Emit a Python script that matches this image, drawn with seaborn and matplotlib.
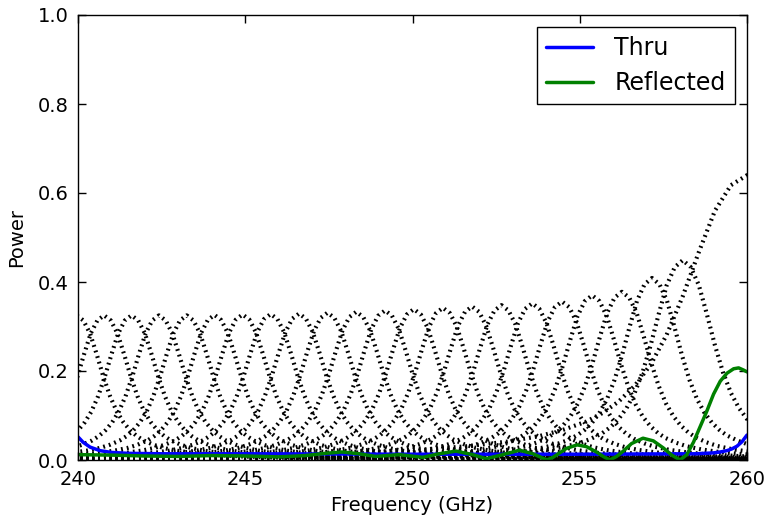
import numpy as np
import pandas as pd
import matplotlib
matplotlib.use("Agg")
import matplotlib.pyplot as plt
import seaborn as sns
from matplotlib.legend_handler import HandlerLine2D

# ---- data ----
# filter-bank channels: centre (GHz), peak power, width scale of the response shape
chan_center = [239.96, 240.78, 241.60, 242.42, 243.25, 244.08, 244.92, 245.76, 246.61,
               247.46, 248.32, 249.18, 250.04, 250.91, 251.78, 252.66, 253.58, 254.47,
               255.37, 256.26, 257.16, 258.08, 260.00]
chan_peak = [0.325, 0.325, 0.325, 0.325, 0.325, 0.326, 0.327, 0.328, 0.329,
             0.331, 0.333, 0.336, 0.339, 0.342, 0.345, 0.348, 0.352, 0.356,
             0.370, 0.378, 0.409, 0.449, 0.640]
chan_width = [1.00, 1.00, 1.00, 1.00, 1.00, 1.00, 1.01, 1.01, 1.02,
              1.02, 1.03, 1.03, 1.04, 1.04, 1.05, 1.05, 1.06, 1.07,
              1.09, 1.10, 1.12, 1.20, 2.40]
# one-sided channel response shape: offset from centre (GHz) and relative power
shape_offset = [0.0, 0.2, 0.4, 0.6, 0.8, 1.0, 1.2, 1.4, 1.6, 1.8, 2.0, 2.3, 2.6, 3.0,
                3.5, 4.0, 5.0, 6.0, 8.0, 11.0, 15.0, 21.0]
shape_value = [1.0, 0.965, 0.875, 0.73, 0.575, 0.44, 0.335, 0.26, 0.205, 0.165, 0.135,
               0.105, 0.083, 0.064, 0.048, 0.037, 0.024, 0.017, 0.0095, 0.005, 0.0027,
               0.0014]

thru_freq = [240.0, 240.15, 240.36, 240.66, 241.0, 241.5, 242.5, 245.0, 250.0, 255.0,
             258.5, 259.0, 259.2, 259.4, 259.55, 259.7, 259.85, 260.0]
thru_power = [0.052, 0.040, 0.029, 0.021, 0.017, 0.015, 0.014, 0.014, 0.013, 0.013,
              0.014, 0.016, 0.018, 0.021, 0.025, 0.031, 0.041, 0.056]

refl_freq = [240.0, 241.0, 242.0, 243.0, 244.0, 245.0, 246.0, 246.8, 247.4, 247.9,
             248.4, 248.9, 249.6, 250.3, 250.8, 251.3, 251.8, 252.2, 252.7, 253.2,
             253.6, 254.02, 254.2, 254.4, 254.6, 254.92, 255.2, 255.5, 255.7, 255.9,
             256.1, 256.3, 256.55, 256.89, 257.2, 257.5, 257.75, 258.0, 258.2, 258.4,
             258.6, 258.8, 259.0, 259.2, 259.4, 259.6, 259.75, 259.9, 260.0]
refl_power = [0.012, 0.011, 0.009, 0.008, 0.010, 0.009, 0.007, 0.010, 0.015, 0.018,
              0.014, 0.008, 0.012, 0.006, 0.014, 0.020, 0.012, 0.003, 0.012, 0.022,
              0.014, 0.000, 0.006, 0.016, 0.026, 0.034, 0.030, 0.018, 0.008, 0.000,
              0.008, 0.020, 0.037, 0.049, 0.043, 0.027, 0.011, 0.000, 0.012, 0.040,
              0.075, 0.110, 0.148, 0.177, 0.195, 0.205, 0.207, 0.202, 0.198]

xtick_vals = [240, 245, 250, 255, 260]
ytick_vals = [0.0, 0.2, 0.4, 0.6, 0.8, 1.0]

# ---- figure ----
sns.set_theme(style="ticks")
plt.rcParams["font.family"] = ["DejaVu Sans"]
plt.rcParams["lines.scale_dashes"] = False
fig = plt.figure(figsize=(7.67, 5.22), dpi=100)
ax = fig.add_axes([78 / 767, 62 / 522, 669 / 767, 445 / 522])

full_off = [-o for o in shape_offset[::-1]] + shape_offset[1:]
full_val = shape_value[::-1] + shape_value[1:]
rows = []
for ci, (c, p, w) in enumerate(zip(chan_center, chan_peak, chan_width)):
    for o, v in zip(full_off, full_val):
        rows.append({"chan": ci, "freq": c + w * o, "power": p * v})
chan_df = pd.DataFrame(rows)

for ci, g in chan_df.groupby("chan"):
    sns.lineplot(data=g, x="freq", y="power", ax=ax, color="black", lw=3.0,
                 estimator=None, sort=False, legend=False,
                 linestyle=(0, (1.3, 2.9)))

sns.lineplot(x=thru_freq, y=thru_power, ax=ax, color="#0000ff", lw=2.5, label="Thru",
             estimator=None)
sns.lineplot(x=refl_freq, y=refl_power, ax=ax, color="#008000", lw=2.5, label="Reflected",
             estimator=None)

ax.set_xlim(240, 260)
ax.set_ylim(0, 1.0)
ax.set_xticks(xtick_vals)
ax.set_yticks(ytick_vals)
ax.set_xticklabels([str(v) for v in xtick_vals])
ax.set_yticklabels([f"{v:.1f}" for v in ytick_vals])
ax.tick_params(direction="in", length=5.5, width=1, top=True, right=True,
               labelsize=14, colors="black")
ax.tick_params(axis="x", pad=7)
ax.tick_params(axis="y", pad=7)
for s in ax.spines.values():
    s.set_visible(True)
    s.set_color("black")
    s.set_linewidth(1.0)
ax.set_xlabel("Frequency (GHz)", fontsize=14, color="black", labelpad=5)
ax.set_ylabel("Power", fontsize=14, color="black", labelpad=8)


class InsetLine(HandlerLine2D):
    def create_artists(self, legend, orig_handle, xdescent, ydescent, width, height,
                       fontsize, trans):
        arts = super().create_artists(legend, orig_handle, xdescent, ydescent, width,
                                      height, fontsize, trans)
        for a in arts:
            xd = np.asarray(a.get_xdata(), dtype=float)
            if xd.size == 2:
                a.set_xdata([xd[0] + 0.14 * width, xd[1] - 0.07 * width])
        return arts


handles, labels = ax.get_legend_handles_labels()
leg = ax.legend(handles, labels, loc="upper right", fontsize=17, handlelength=2.0,
                handletextpad=0.9, frameon=True, fancybox=False, borderpad=0.4,
                labelspacing=0.45, framealpha=1.0, borderaxespad=0.5,
                handler_map={h: InsetLine() for h in handles})
leg.get_frame().set_edgecolor("black")
leg.get_frame().set_linewidth(1.0)
for t in leg.get_texts():
    t.set_color("black")

fig.savefig("out.png", dpi=100)
